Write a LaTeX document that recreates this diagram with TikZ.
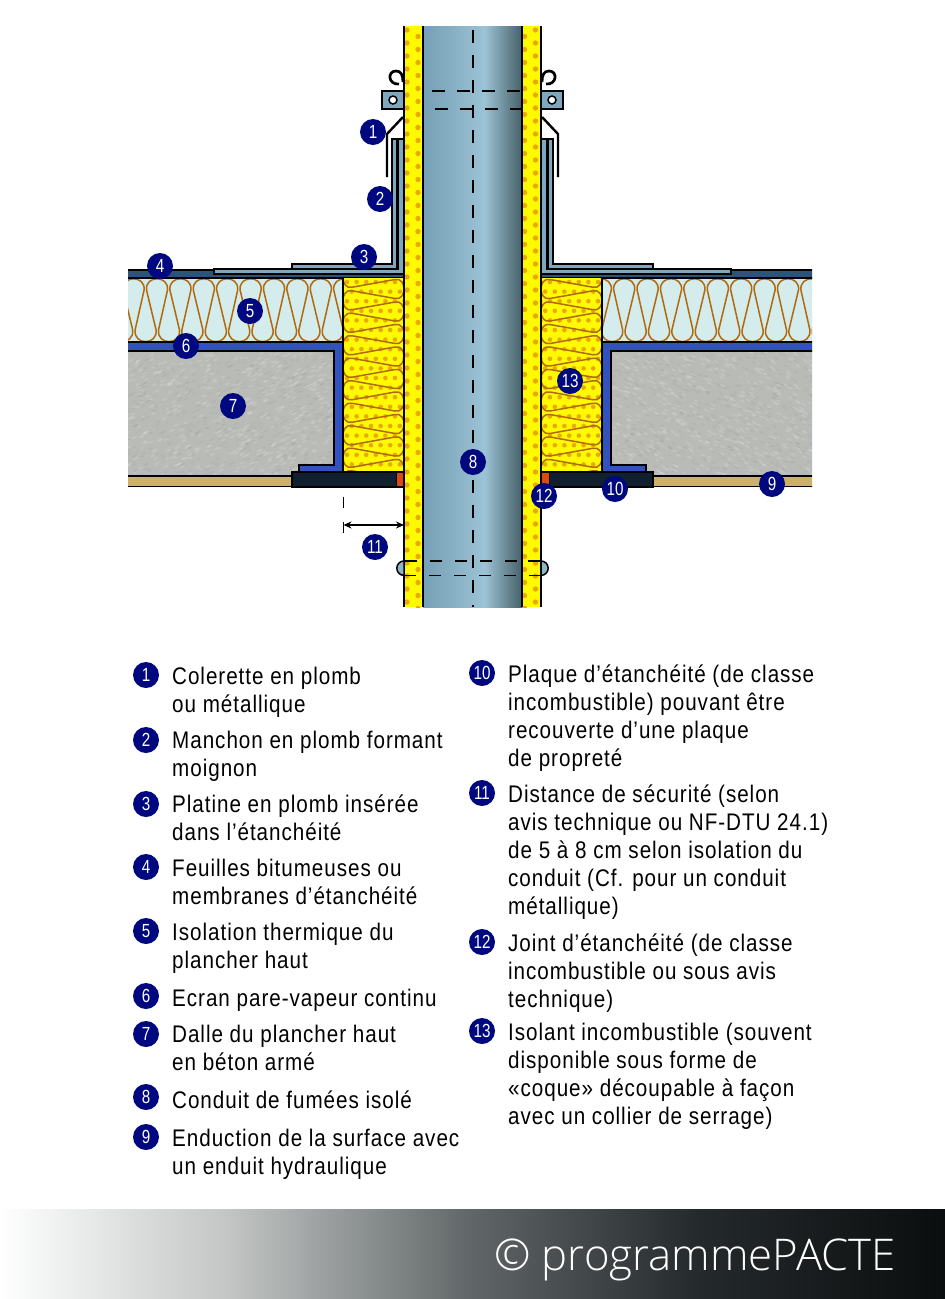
\documentclass[tikz,border=0pt]{standalone}
\usepackage{fontspec}
\usepackage{xcolor}
\setmainfont[FakeStretch=0.86,LetterSpace=4]{Liberation Sans}
\newfontfamily\digitfont[FakeStretch=0.8]{Liberation Sans}
\newfontfamily\footfont{Open Sans Light}
\usetikzlibrary{arrows.meta,positioning}

\definecolor{navy}{HTML}{00087F}
\definecolor{jacket}{HTML}{FFFA00}
\definecolor{speck}{HTML}{E9A90B}
\definecolor{wool}{HTML}{B0690F}
\definecolor{icecyan}{HTML}{D4ECEB}
\definecolor{membrane}{HTML}{2A5579}
\definecolor{lead}{HTML}{7FA8BE}
\definecolor{vapour}{HTML}{3252BE}
\definecolor{slab}{HTML}{B9BBB7}
\definecolor{render}{HTML}{CDB06C}
\definecolor{plate}{HTML}{10202F}
\definecolor{joint}{HTML}{DD4A10}
\definecolor{flueA}{HTML}{76A0B6}
\definecolor{flueB}{HTML}{8DB4C7}
\definecolor{flueC}{HTML}{9CC3D5}
\definecolor{flueD}{HTML}{7C9EAD}
\definecolor{flueE}{HTML}{476169}
\definecolor{footA}{HTML}{C3C6C5}
\definecolor{footB}{HTML}{606667}
\definecolor{footC}{HTML}{24292B}
\definecolor{footD}{HTML}{0B0E0F}

\pgfdeclarehorizontalshading{flueshade}{100bp}{color(0bp)=(flueA);color(25bp)=(flueA);
  color(44bp)=(flueB);color(56bp)=(flueC);color(63bp)=(flueD);color(75bp)=(flueE);color(100bp)=(flueE)}
\pgfdeclarehorizontalshading{footshade}{100bp}{color(0bp)=(white);color(25bp)=(white);
  color(37bp)=(footA);color(50bp)=(footB);color(62bp)=(footC);color(75bp)=(footD);color(100bp)=(footD)}

\tikzset{
  bullet/.style={circle, fill=navy, text=white, minimum size=26pt, inner sep=0pt, font=\digitfont\fontsize{19}{19}\selectfont},
  legendtxt/.style={anchor=north west, inner sep=0pt, align=left, font=\fontsize{24}{28}\selectfont, execute at begin node=\strut},
  edge/.style={draw=black, line width=1.5pt},
  thinedge/.style={draw=black, line width=1.1pt},
  axis/.style={line width=1.3pt, dash pattern=on 13pt off 12pt},
}

% one side of the roof, drawn for the left and mirrored for the right
\newcommand{\halfroof}{
    % Insulation
    \fill[icecyan] (120,278) rectangle (343,342);
    \begin{scope}
        \clip (120,278) rectangle (343,342);
        \foreach \c in {110.2,133.6,...,345} {
            \draw[wool, line width=1.5pt] (\c-10.5,290) .. controls (\c-12,275) and (\c+12,275) .. (\c+10.5,290)
                -- (\c+1.5,330) .. controls (\c,345.5) and (\c+24,345.5) .. (\c+22.5,330) -- (\c+12.9,290);
        }
    \end{scope}
    \draw[edge] (343,278) -- (343,342);
    % Membrane and lead plates
    \draw[edge, fill=membrane] (120,270) rectangle (404,278);
    \draw[thinedge, fill=lead] (292,269) -- (292,264) -- (392,264) -- (392,139) -- (397,139) -- (397,269) -- cycle;
    \draw[thinedge, fill=lead] (214,274) -- (214,269) -- (398,269) -- (398,139) -- (404,139) -- (404,274) -- cycle;
    % Incombustible insulant
    \fill[jacket] (343,278) rectangle (404,472);
    \begin{scope}
        \clip (343,278) rectangle (404,472);
        \foreach \r in {0,...,20} {
            \pgfmathsetmacro\dx{4.8*mod(\r,2)}
            \foreach \k in {0,...,6} {
                \fill[speck] (347+\k*9.6+\dx,282+\r*9.6) circle (2.3);
            }
        }
        \foreach \c in {266.5,289,...,470} {
            \draw[wool, line width=1.5pt] (395,\c-9.5) .. controls (407,\c-12) and (407,\c+12) .. (395,\c+9.5)
                -- (352,\c+1.75) .. controls (340,\c-0.75) and (340,\c+23.25) .. (352,\c+20.75) -- (395,\c+13);
        }
    \end{scope}
    \draw[edge] (343,278) -- (343,472);
    % Slab
    \begin{scope}
        \clip (120,351) -- (334,351) -- (334,465) -- (299,465) -- (299,475) -- (120,475) -- cycle;
        \fill[slab] (120,351) rectangle (334,475);
        \foreach \i in {1,...,500} {
            \pgfmathsetmacro\px{120+214*rnd}
            \pgfmathsetmacro\py{351+124*rnd}
            \fill[black!45, opacity=0.13, rotate around={25:(\px,\py)}] (\px,\py) ellipse (2.4 and 0.8);
            \pgfmathsetmacro\qx{120+214*rnd}
            \pgfmathsetmacro\qy{351+124*rnd}
            \fill[white, opacity=0.14, rotate around={25:(\qx,\qy)}] (\qx,\qy) ellipse (2.8 and 1);
        }
    \end{scope}
    % Vapour barrier
    \draw[edge, fill=vapour] (120,342) -- (343,342) -- (343,472) -- (299,472) -- (299,465) -- (334,465) -- (334,351) -- (120,351) -- cycle;
    % Render, plate, joint
    \draw[edge, fill=render] (120,476) rectangle (292,486.5);
    \draw[edge, fill=plate] (292,472) rectangle (404,487);
    \fill[joint] (396,473) rectangle (404,486);
    \draw[black, line width=1pt] (396,472) -- (396,487);
}

% lead collar and flashing clamp
\newcommand{\halfcollar}{
    \draw[edge, fill=lead] (382,91) rectangle (404,109);
    \draw[edge, fill=white] (393,100) circle (4);
    \draw[black, line width=2.7pt] (399,84) .. controls (388,85) and (387,71) .. (396,71) .. controls (401,71) and (403,75) .. (403,82);
    \draw[black, line width=2.4pt] (403,117) -- (387,134) -- (387,177);
    % bottom clip
    \draw[edge, fill=flueB] (404,561) arc (270:90:7.2) -- cycle;
    \draw[edge] (404,561) -- (417,561);
    \draw[edge] (404,575.4) -- (416,575.4);
}

\begin{document}
\begin{tikzpicture}[x=1pt,y=-1pt]
    \useasboundingbox (0,0) rectangle (945,1299);
    \pgfmathsetseed{417}

    % Roof
    \begin{scope}
        \clip (128,130) rectangle (812,495);
        \halfroof
        \begin{scope}[xshift=945pt,xscale=-1]
            \halfroof
        \end{scope}
    \end{scope}

    % Flue
    \fill[jacket] (404,26) rectangle (541,607);
    \begin{scope}
        \clip (404,26) rectangle (423,607);
        \foreach \r in {0,...,44} {
            \fill[speck] (407,30+\r*13) circle (2.7);
            \fill[speck] (418,36.5+\r*13) circle (2.7);
        }
    \end{scope}
    \begin{scope}
        \clip (522,26) rectangle (541,607);
        \foreach \r in {0,...,44} {
            \fill[speck] (524.5,36.5+\r*13) circle (2.7);
            \fill[speck] (535.5,30+\r*13) circle (2.7);
        }
    \end{scope}
    \shade[shading=flueshade] (423,26) rectangle (522,607);
    \draw[edge] (404,26) -- (404,607);
    \draw[edge] (423,26) -- (423,607);
    \draw[edge] (522,26) -- (522,607);
    \draw[edge] (541,26) -- (541,607);

    \halfcollar
    \begin{scope}[xshift=945pt,xscale=-1]
        \halfcollar
    \end{scope}

    % Axis and hidden edges
    \draw[axis] (473,30) -- (473,607);
    \draw[axis] (432,91) -- (522,91);
    \draw[axis] (435,109) -- (522,109);
    \draw[axis, dash pattern=on 12pt off 13pt] (430,561) -- (528,561);
    \draw[axis, dash pattern=on 12pt off 13pt] (429,575.4) -- (528,575.4);

    % Safety distance
    \coordinate (gapfar) at (343.5,525);
    \coordinate (gapnear) at (404,525);
    \draw[line width=1.3pt] (343.5,497) -- (343.5,508);
    \draw[line width=1.3pt] (343.5,522) -- (343.5,533);
    \draw[{Stealth[length=8pt,width=7pt]}-{Stealth[length=8pt,width=7pt]}, line width=1.3pt] (gapfar) -- (gapnear);

    % Markers on the drawing
    \foreach \n/\px/\py in {1/373/132,2/380/199,3/364/257,4/160/266,5/250/311,6/186/346,7/233/406,
        8/473/462,9/772/484,10/615/489,11/375/547,12/544/496,13/570/381} {
        \node[bullet] (m\n) at (\px,\py) {\n};
    }

    % Legend
    \foreach \n/\kx/\ky/\tx/\ty/\txt in {
        1/146/675/172/686.5/{Colerette en plomb\\ou métallique},
        2/146/740/172/750.5/{Manchon en plomb formant\\moignon},
        3/146/804/172/814/{Platine en plomb insérée\\dans l’étanchéité},
        4/146/867/172/878/{Feuilles bitumeuses ou\\membranes d’étanchéité},
        5/146/931/172/942/{Isolation thermique du\\plancher haut},
        6/146/996/172/1006/{Ecran pare-vapeur continu},
        7/146/1034/172/1044/{Dalle du plancher haut\\en béton armé},
        8/146/1097/172/1108/{Conduit de fumées isolé},
        9/146/1137/172/1148/{Enduction de la surface avec\\un enduit hydraulique},
        10/482/673/508/684/{Plaque d’étanchéité (de classe\\incombustible) pouvant être\\recouverte d’une plaque\\de propreté},
        11/482/793/508/804/{Distance de sécurité (selon\\avis technique ou NF-DTU 24.1)\\de 5 à 8 cm selon isolation du\\conduit (Cf. pour un conduit\\métallique)},
        12/482/942/508/953/{Joint d’étanchéité (de classe\\incombustible ou sous avis\\technique)},
        13/482/1031/508/1042/{Isolant incombustible (souvent\\disponible sous forme de\\«coque» découpable à façon\\avec un collier de serrage)}} {
        \node[bullet] (k\n) at (\kx,\ky) {\n};
        \node[legendtxt] (t\n) at (\tx,\ty-19.6) {\txt};
    }

    % Footer band
    \shade[shading=footshade] (0,1209) rectangle (945,1299);
    \node[anchor=base west, inner sep=0pt, text=white, font=\footfont\fontsize{43.7}{44}\selectfont] (credit) at (494,1270) {© programmePACTE};
\end{tikzpicture}
\end{document}
